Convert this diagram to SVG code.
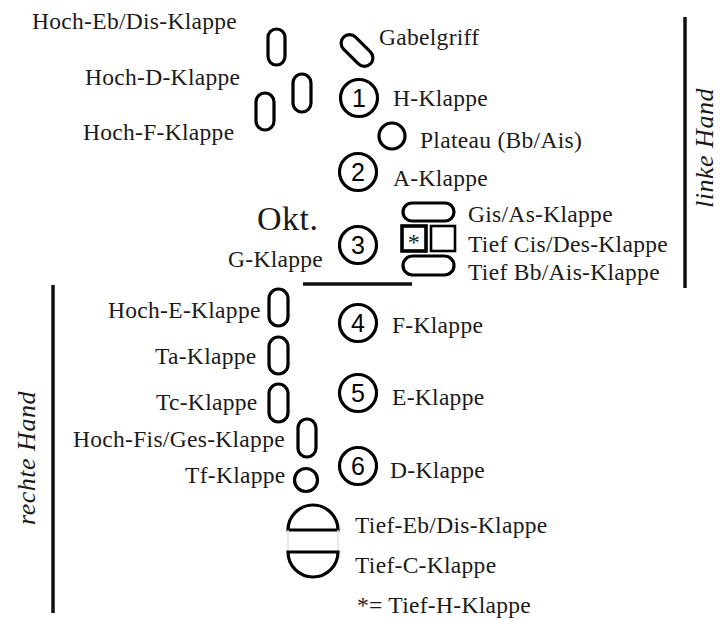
<svg xmlns="http://www.w3.org/2000/svg" width="720" height="621" viewBox="0 0 720 621">
<style>
.k{fill:none;stroke:#000;stroke-width:3.2}
.t{font-family:'Liberation Serif','DejaVu Serif',serif;font-size:23.5px;letter-spacing:0.3px;fill:#1a1a1a}
.n{font-family:'Liberation Sans','DejaVu Sans',sans-serif;font-size:25px;fill:#000;text-anchor:middle}
.h{font-family:'Liberation Serif','DejaVu Serif',serif;font-size:26px;font-style:italic;fill:#1a1a1a;text-anchor:middle;letter-spacing:0.5px}
.sep{stroke:#111;stroke-width:3.5}
</style>
<rect width="720" height="621" fill="#fff"/>
<g id="lines">
<line class="sep" x1="685" y1="17" x2="685" y2="288"/>
<line class="sep" x1="53" y1="285" x2="53" y2="613"/>
<line class="sep" x1="303" y1="284" x2="412" y2="284"/>
</g>
<g id="hand-labels">
<text class="h" transform="translate(713,148) rotate(-90)">linke Hand</text>
<text class="h" transform="translate(35,458) rotate(-90)">rechte Hand</text>
</g>
<g id="hoch-eb-dis"><rect class="k" x="268" y="29" width="17" height="36" rx="8.5"/><text class="t" x="32" y="29">Hoch-Eb/Dis-Klappe</text></g>
<g id="gabelgriff"><rect class="k" x="348.5" y="31.5" width="17" height="38" rx="8.5" transform="rotate(-45 357 50.5)"/><text class="t" x="379" y="45">Gabelgriff</text></g>
<g id="hoch-d"><rect class="k" x="293" y="74" width="18" height="38" rx="9"/><text class="t" x="85" y="85">Hoch-D-Klappe</text></g>
<g id="hoch-f"><rect class="k" x="256" y="93" width="18" height="37" rx="9"/><text class="t" x="83" y="140">Hoch-F-Klappe</text></g>
<g id="h-klappe"><circle class="k" cx="359" cy="98" r="18.5"/><text class="n" x="359" y="107">1</text><text class="t" x="393" y="106">H-Klappe</text></g>
<g id="plateau"><circle class="k" cx="392" cy="136" r="13"/><text class="t" x="420" y="148">Plateau (Bb/Ais)</text></g>
<g id="a-klappe"><circle class="k" cx="358" cy="172" r="18.5"/><text class="n" x="358" y="181">2</text><text class="t" x="393" y="186">A-Klappe</text></g>
<g id="gis-as"><rect class="k" x="403" y="203" width="51" height="18" rx="9"/><text class="t" x="468" y="222">Gis/As-Klappe</text></g>
<g id="tief-h"><rect class="k" x="402" y="226" width="24" height="25" style="stroke-width:3.6"/><text class="t" x="414" y="250" text-anchor="middle" style="font-size:24px">*</text></g>
<g id="tief-cis-des"><rect class="k" x="431" y="226" width="24" height="25" style="stroke-width:2.6"/><text class="t" x="468" y="252">Tief Cis/Des-Klappe</text></g>
<g id="tief-bb-ais"><rect class="k" x="403" y="256" width="51" height="19" rx="9.5"/><text class="t" x="468" y="280">Tief Bb/Ais-Klappe</text></g>
<g id="okt"><text class="t" x="257" y="230" style="font-size:34px;letter-spacing:0.5px">Okt.</text></g>
<g id="g-klappe"><circle class="k" cx="358" cy="245" r="18.5"/><text class="n" x="358" y="254">3</text><text class="t" x="228" y="267">G-Klappe</text></g>
<g id="hoch-e"><rect class="k" x="269" y="289" width="19" height="37" rx="9.5"/><text class="t" x="108" y="318">Hoch-E-Klappe</text></g>
<g id="f-klappe"><circle class="k" cx="358" cy="323" r="18.5"/><text class="n" x="358" y="332">4</text><text class="t" x="392" y="333">F-Klappe</text></g>
<g id="ta"><rect class="k" x="269" y="337" width="19" height="37" rx="9.5"/><text class="t" x="155" y="364">Ta-Klappe</text></g>
<g id="e-klappe"><circle class="k" cx="358" cy="393" r="18.5"/><text class="n" x="358" y="402">5</text><text class="t" x="392" y="405">E-Klappe</text></g>
<g id="tc"><rect class="k" x="269" y="384" width="19" height="38" rx="9.5"/><text class="t" x="156" y="410">Tc-Klappe</text></g>
<g id="hoch-fis-ges"><rect class="k" x="298" y="419" width="18" height="38" rx="9"/><text class="t" x="73" y="447">Hoch-Fis/Ges-Klappe</text></g>
<g id="d-klappe"><circle class="k" cx="358" cy="466" r="18.5"/><text class="n" x="358" y="475">6</text><text class="t" x="390" y="478">D-Klappe</text></g>
<g id="tf"><circle class="k" cx="306" cy="480" r="11.5"/><text class="t" x="185" y="483">Tf-Klappe</text></g>
<g id="tief-eb-dis"><path class="k" d="M288,530 A25,25 0 0 1 338,530 Z"/><text class="t" x="355" y="533">Tief-Eb/Dis-Klappe</text></g>
<line x1="288" y1="530" x2="288" y2="552" stroke="#e2e2e2" stroke-width="1.5"/>
<line x1="338" y1="530" x2="338" y2="552" stroke="#e2e2e2" stroke-width="1.5"/>
<g id="tief-c"><path class="k" d="M288,552 A25,25 0 0 0 338,552 Z"/><text class="t" x="355" y="573">Tief-C-Klappe</text></g>
<g id="legend"><text class="t" x="357" y="613">*= Tief-H-Klappe</text></g>
</svg>
